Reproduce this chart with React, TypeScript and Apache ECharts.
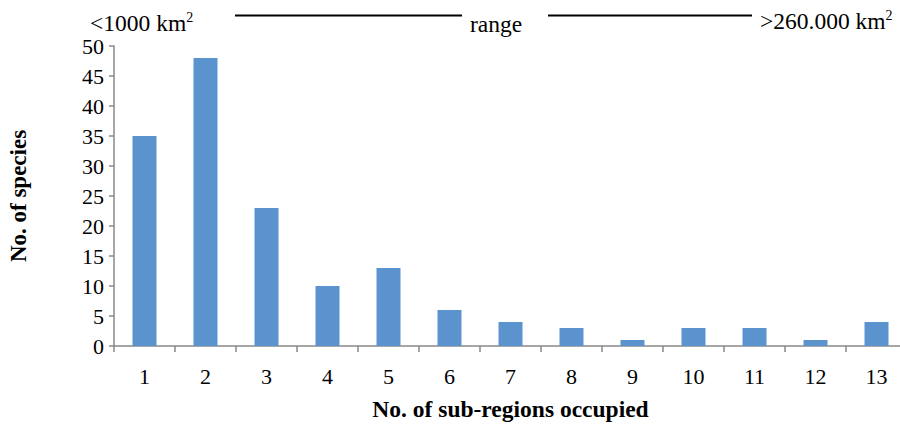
import React, { useEffect, useRef } from "react";
import * as echarts from "echarts";

const categories = ["1", "2", "3", "4", "5", "6", "7", "8", "9", "10", "11", "12", "13"];
const species = [35, 48, 23, 10, 13, 6, 4, 3, 1, 3, 3, 1, 4];
const yTicks = { min: 0, max: 50, interval: 5 };
const FONT = "Liberation Serif";
const FS = 22;
const FS_TOP = 23.5;

export default function App() {
  const ref = useRef<HTMLDivElement>(null);
  useEffect(() => {
    if (!ref.current) return;
    const chart = echarts.init(ref.current, null, { renderer: "svg" });
    const supRich = {
      m: { fontFamily: FONT, fontSize: FS_TOP, color: "#000" },
      s: { fontFamily: FONT, fontSize: 14, color: "#000", verticalAlign: "top" },
    };
    chart.setOption({
      animation: false,
      backgroundColor: "#ffffff",
      grid: { left: 114, width: 793, top: 46, bottom: 81, outerBoundsMode: "none", containLabel: false },
      xAxis: {
        type: "category",
        data: categories,
        name: "No. of sub-regions occupied",
        nameLocation: "middle",
        nameGap: 51,
        nameTextStyle: { fontFamily: FONT, fontSize: 23.5, fontWeight: "bold", color: "#000" },
        axisLine: { lineStyle: { color: "#888888", width: 1.5 } },
        axisTick: { show: true, length: 6, lineStyle: { color: "#888888", width: 1.5 } },
        axisLabel: { fontFamily: FONT, fontSize: FS, color: "#000", margin: 19 },
      },
      yAxis: {
        type: "value",
        min: yTicks.min,
        max: yTicks.max,
        interval: yTicks.interval,
        name: "No. of species",
        nameLocation: "middle",
        nameGap: 84,
        nameRotate: 90,
        nameTextStyle: { fontFamily: FONT, fontSize: 23, fontWeight: "bold", color: "#000" },
        axisLine: { show: true, lineStyle: { color: "#888888", width: 1.5 } },
        axisTick: { show: true, length: 5, lineStyle: { color: "#888888", width: 1.5 } },
        axisLabel: { fontFamily: FONT, fontSize: FS, color: "#000", margin: 10 },
        splitLine: { show: false },
      },
      series: [
        {
          type: "bar",
          data: species,
          barWidth: 24,
          itemStyle: { color: "#5b93cf" },
        },
      ],
      graphic: [
        {
          type: "text",
          x: 90,
          y: 22.5,
          style: { text: "{m|<1000 km}{s|2}", rich: supRich, verticalAlign: "middle", align: "left" },
        },
        { type: "line", shape: { x1: 235, y1: 15.5, x2: 462, y2: 15.5 }, style: { stroke: "#000", lineWidth: 2.2 } },
        {
          type: "text",
          x: 470,
          y: 24,
          style: { text: "range", fontFamily: FONT, fontSize: FS_TOP, fill: "#000", verticalAlign: "middle", align: "left" },
        },
        { type: "line", shape: { x1: 548, y1: 15.5, x2: 752, y2: 15.5 }, style: { stroke: "#000", lineWidth: 2.2 } },
        {
          type: "text",
          x: 760,
          y: 20.5,
          style: { text: "{m|>260.000 km}{s|2}", rich: supRich, verticalAlign: "middle", align: "left" },
        },
      ],
    });
    return () => chart.dispose();
  }, []);
  return <div ref={ref} style={{ width: 900, height: 427, position: "absolute", left: 0, top: 0 }} />;
}
